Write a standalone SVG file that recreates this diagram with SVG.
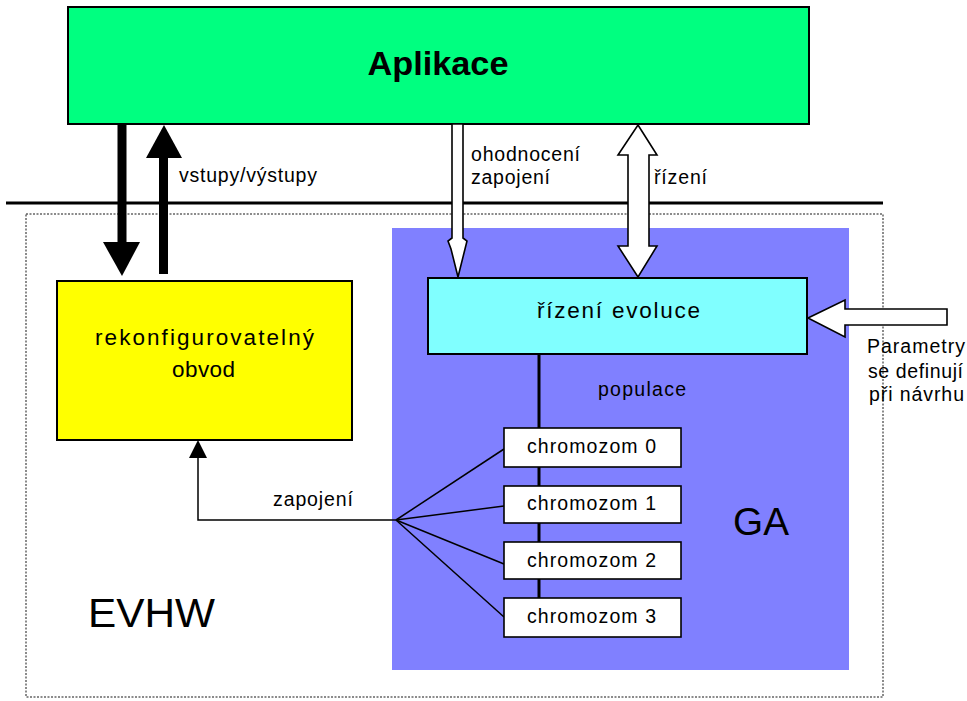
<svg xmlns="http://www.w3.org/2000/svg" width="967" height="701" viewBox="0 0 967 701">
<style>
text{font-family:"Liberation Sans",Arial,sans-serif;fill:#000}
.lbl{font-size:19.5px}
.big{font-size:22.5px}
.box{stroke:#000;stroke-width:2}
.chrom{fill:#fff;stroke:#000;stroke-width:1.6}
.hollow{fill:#fff;stroke:#000;stroke-width:1.6;stroke-linejoin:miter}
.solid{fill:#000;stroke:none}
</style>
<rect width="967" height="701" fill="#fff"/>

<g id="evhw">
  <rect x="26" y="214" width="857" height="483" fill="none" stroke="#666" stroke-width="1.5" stroke-dasharray="2 1.5"/>
  <text x="88" y="627" font-size="41" textLength="127" lengthAdjust="spacingAndGlyphs">EVHW</text>
</g>

<line id="boundary" x1="6" y1="203" x2="883" y2="203" stroke="#000" stroke-width="3"/>

<g id="aplikace">
  <rect class="box" x="68" y="7" width="741" height="117" fill="#00FF80"/>
  <text x="438" y="75" font-size="34" font-weight="bold" text-anchor="middle" textLength="141" lengthAdjust="spacingAndGlyphs">Aplikace</text>
</g>

<g id="ga">
  <rect x="392" y="228" width="457" height="442" fill="#8080FF"/>
  <text x="733" y="535" font-size="39" textLength="56" lengthAdjust="spacingAndGlyphs">GA</text>
</g>

<g id="obvod">
  <rect class="box" x="57" y="281" width="295" height="159" fill="#FFFF00"/>
  <text class="big" x="95" y="345" textLength="219" lengthAdjust="spacing">rekonfigurovatelný</text>
  <text class="big" x="172" y="377" textLength="63" lengthAdjust="spacing">obvod</text>
</g>

<g id="rizeni-evoluce">
  <rect class="box" x="428" y="278" width="379" height="76" fill="#80FFFF"/>
  <text class="big" x="537" y="318" textLength="163" lengthAdjust="spacing">řízení evoluce</text>
</g>

<g id="connectors">
  <line x1="539" y1="354" x2="539" y2="600" stroke="#000" stroke-width="3"/>
  <g stroke="#000" stroke-width="1.5" fill="none">
    <line x1="396" y1="520" x2="504" y2="449"/>
    <line x1="396" y1="520" x2="504" y2="506"/>
    <line x1="396" y1="520" x2="504" y2="564"/>
    <line x1="396" y1="520" x2="504" y2="617"/>
    <polyline points="396,520 198,520 198,457"/>
  </g>
  <polygon class="solid" points="189,458 207,458 198,440"/>
  <rect class="solid" x="117.5" y="124" width="9" height="120"/>
  <polygon class="solid" points="103,242 140,242 122,276"/>
  <rect class="solid" x="159" y="156" width="9" height="118"/>
  <polygon class="solid" points="146,158 182,158 164,125"/>
  <polygon class="hollow" points="452,124 463,124 463,238 467,241 465,249 458,277 451,249 448,241 452,238"/>
  <polygon class="hollow" points="638,125 657,155 649,155 649,246 657,246 638,277 618,246 628,246 628,155 618,155"/>
  <polygon class="hollow" points="808,318 845,300 845,309 947,309 947,325 845,325 845,337"/>
  <text class="lbl" x="179" y="182" textLength="138" lengthAdjust="spacing">vstupy/výstupy</text>
  <text class="lbl" x="471" y="161" textLength="109" lengthAdjust="spacing">ohodnocení</text>
  <text class="lbl" x="471" y="184" textLength="79" lengthAdjust="spacing">zapojení</text>
  <text class="lbl" x="654" y="184" textLength="53" lengthAdjust="spacing">řízení</text>
  <text class="lbl" x="598" y="396" textLength="88" lengthAdjust="spacing">populace</text>
  <text class="lbl" x="273" y="506" textLength="80" lengthAdjust="spacing">zapojení</text>
  <text class="lbl" x="867" y="353" textLength="98" lengthAdjust="spacing">Parametry</text>
  <text class="lbl" x="868" y="378" textLength="95" lengthAdjust="spacing">se definují</text>
  <text class="lbl" x="869" y="401" textLength="95" lengthAdjust="spacing">při návrhu</text>
</g>

<g id="chromozom0">
  <rect class="chrom" x="504" y="428" width="177" height="39"/>
  <text class="lbl" x="527" y="453" textLength="129" lengthAdjust="spacing">chromozom 0</text>
</g>
<g id="chromozom1">
  <rect class="chrom" x="504" y="486" width="177" height="37"/>
  <text class="lbl" x="527" y="510" textLength="129" lengthAdjust="spacing">chromozom 1</text>
</g>
<g id="chromozom2">
  <rect class="chrom" x="504" y="542" width="177" height="37"/>
  <text class="lbl" x="527" y="567" textLength="129" lengthAdjust="spacing">chromozom 2</text>
</g>
<g id="chromozom3">
  <rect class="chrom" x="504" y="598" width="177" height="39"/>
  <text class="lbl" x="527" y="623" textLength="129" lengthAdjust="spacing">chromozom 3</text>
</g>
</svg>
